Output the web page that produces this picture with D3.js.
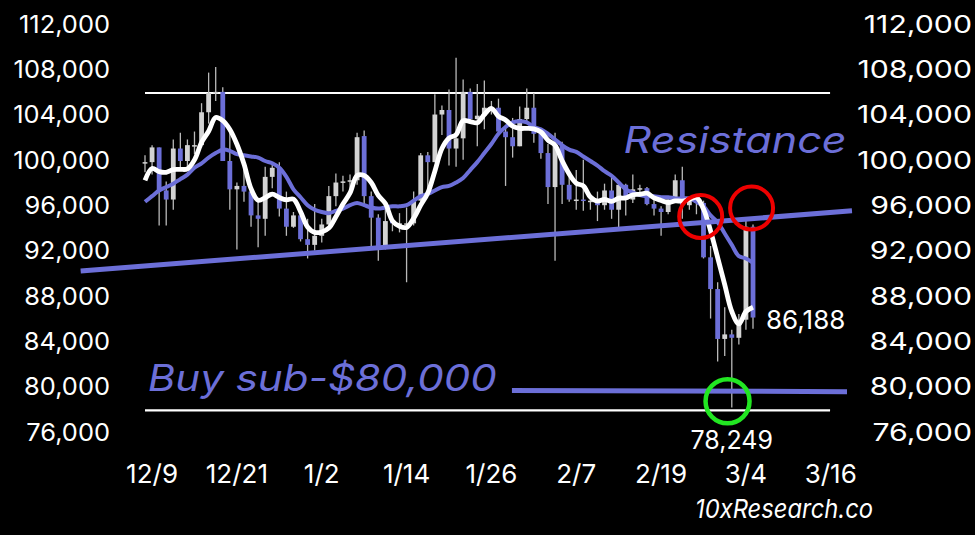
<!DOCTYPE html>
<html><head><meta charset="utf-8">
<script src="https://cdn.jsdelivr.net/npm/d3@7"></script>
<style>
html,body{margin:0;padding:0;background:#000;}
svg{display:block;}
text{font-family:Inter,"Open Sans",sans-serif;}
</style></head><body>
<svg id="chart" width="975" height="535"></svg>
<script>
// Daily BTC candles, Dec 7 2024 .. Mar 3 2025 (values in USD thousands)
const startDate = "2024-12-07";
const opens = [99.8,99.9,101.2,97.4,96.6,101.1,100.0,101.4,101.4,104.3,106.0,106.1,100.0,97.5,97.8,97.3,95.2,94.9,98.6,99.4,95.8,94.2,95.2,93.1,92.6,93.4,94.4,96.9,98.1,98.2,98.3,102.2,96.9,95.0,92.5,94.7,94.5,94.5,94.5,96.5,100.5,99.9,104.1,104.5,101.1,102.0,106.1,103.7,104.0,104.7,104.7,102.6,102.1,101.3,103.7,104.7,102.4,100.7,97.7,101.4,97.9,96.6,96.6,96.5,96.5,96.1,97.4,95.7,97.9,96.6,97.5,97.6,96.2,95.8,95.5,96.6,98.3,96.1,96.6,96.3,91.5,88.7,84.3,84.7,84.4,86.0,94.2];
const highs = [100.5,101.4,101.2,98.2,101.9,102.5,101.9,102.6,105.1,107.8,108.3,106.5,102.8,98.1,99.5,97.4,96.4,99.5,99.9,99.9,97.3,95.5,95.2,94.9,96.2,94.9,97.8,98.9,98.7,98.8,102.5,102.7,97.3,95.3,95.8,94.9,95.4,95.9,97.3,100.7,100.8,105.9,104.9,106.3,109.1,107.2,106.4,106.8,107.1,105.3,105.5,103.2,103.8,104.8,106.4,106.0,102.8,101.5,102.5,101.7,99.1,99.2,100.1,96.9,97.3,98.0,98.5,98.1,98.0,98.8,97.9,97.7,97.0,96.0,96.9,98.8,99.5,96.9,96.7,96.5,92.5,89.3,87.1,85.1,86.5,95.0,94.4];
const lows = [99.0,98.8,94.3,94.3,95.7,99.3,99.2,100.6,101.2,103.3,105.3,100.0,95.7,92.2,96.4,94.2,92.4,93.4,97.6,95.1,93.4,94.1,92.9,91.4,92.1,92.8,94.2,96.0,97.3,97.3,97.9,96.1,92.5,91.2,92.2,93.8,93.7,89.3,94.3,96.4,97.3,99.9,102.3,99.6,99.5,100.1,103.3,101.3,102.8,104.1,102.5,97.8,100.3,101.3,103.3,101.6,100.2,96.2,91.2,96.2,96.4,95.7,95.6,95.7,94.7,95.7,94.9,94.1,95.2,96.3,97.0,96.1,95.2,93.4,95.3,96.4,94.9,95.7,95.3,91.4,86.1,82.3,82.8,78.249,83.8,85.1,85.2];
const closes = [99.9,101.2,97.4,96.6,101.1,100.0,101.4,101.4,104.3,106.0,106.1,100.0,97.5,97.8,97.3,95.2,94.9,98.6,99.4,95.8,94.2,95.2,93.1,92.6,93.4,94.4,96.9,98.1,98.2,98.3,102.1,96.9,95.0,92.5,94.7,94.5,94.5,94.5,96.5,100.5,99.9,104.1,104.5,101.1,102.0,106.1,103.7,104.0,104.7,104.7,102.6,102.1,101.3,103.7,104.7,102.4,100.7,97.7,101.4,97.9,96.6,96.6,96.5,96.5,96.1,97.4,95.7,97.9,96.6,97.5,97.6,96.2,95.8,95.5,96.6,98.3,96.1,96.6,96.3,91.5,88.7,84.3,84.7,84.4,86.0,94.2,86.188];
// Short moving average (white) and longer moving average (blue)
const maShort = [98.3,99.34,99.06,99.0,99.24,99.26,99.3,100.1,101.64,102.62,103.84,103.56,102.78,101.48,99.74,97.56,96.54,96.76,97.08,96.78,96.58,96.64,95.54,94.18,93.7,93.74,94.08,95.08,96.2,97.18,98.72,98.72,98.1,96.96,96.24,94.72,94.24,94.14,94.94,96.1,97.18,99.1,101.1,102.02,102.32,103.56,103.48,103.38,104.1,104.64,103.94,103.62,103.08,102.88,102.88,102.84,102.56,101.84,101.38,100.02,98.86,98.04,97.8,96.82,96.46,96.62,96.44,96.72,96.74,97.02,97.06,97.16,96.74,96.52,96.34,96.48,96.46,96.62,96.78,95.76,93.84,91.48,89.1,86.72,85.62,86.72,87.1];
const maLong = [96.4,96.9,97.4,97.7,98.0,98.4,98.8,99.4,99.8,100.3,100.7,101.0,100.9,100.6,100.5,100.4,100.3,100.0,99.8,99.4,98.6,97.5,96.8,96.1,95.7,95.5,95.4,95.6,95.8,96.1,96.3,96.1,95.9,95.8,95.9,96.0,96.0,96.1,96.5,96.9,97.1,97.4,97.7,97.8,98.1,98.5,99.2,99.9,100.7,101.5,102.4,103.0,103.4,103.5,103.4,103.0,102.8,102.4,101.9,101.4,101.0,100.8,100.4,100.0,99.6,99.1,98.7,98.1,97.5,97.2,97.0,96.9,96.9,96.8,96.8,96.7,96.7,96.7,96.4,96.0,95.2,94.6,93.6,92.6,91.6,91.4,91.0];
// Axis ticks
const yTicks = [76,80,84,88,92,96,100,104,108,112];
const xTickLabels = ["12/9","12/21","1/2","1/14","1/26","2/7","2/19","3/4","3/16"];
const xTickIndex = [1,13,25,37,49,61,73,85,97];
// Annotation levels (day index, value in thousands)
const rangeTop = 106;
const rangeBottom = 78;
const rangeSpan = [0, 96.9];
const buyLevel = [79.75, 79.65];
const buySpan = [51.9, 99.3];
const resistanceLine = [{i:-9.1, v:90.3},{i:100.0, v:95.6}];
const redCircles = [{i:78.6, v:95.1},{i:85.8, v:95.85}];
const greenCircles = [{i:82.4, v:78.8}];
const lowLabel = "78,249";
const lastLabel = "86,188";

const W = 975, H = 535;
const BLUE = "#6c6fd8";
const svg = d3.select("#chart");
svg.append("rect").attr("width", W).attr("height", H).attr("fill", "#000");

const n = closes.length;
const x = d3.scaleLinear().domain([0, n - 1]).range([145, 753]);
const y = d3.scaleLinear().domain([76, 112]).range([433, 25]);
const fmt = v => d3.format(",")(Math.round(v * 1000));

// Y axes
const yl = svg.append("g").attr("transform", "translate(110,0)")
  .call(d3.axisLeft(y).tickValues(yTicks).tickFormat(fmt).tickSize(0).tickPadding(0));
const yr = svg.append("g").attr("transform", "translate(972,0)")
  .call(d3.axisLeft(y).tickValues(yTicks).tickFormat(fmt).tickSize(0).tickPadding(0));
[yl, yr].forEach(g => {
  g.select(".domain").remove();
  g.selectAll("text").attr("fill", "#fff").attr("font-size", 24)
    .attr("font-family", "Inter,'Open Sans',sans-serif").attr("dy", "0.3em");
});
yl.selectAll("text").each(function () {
  const w = this.getComputedTextLength();
  d3.select(this).attr("textLength", w * 1.06).attr("lengthAdjust", "spacingAndGlyphs");
});
yr.selectAll("text").each(function () {
  const w = this.getComputedTextLength();
  d3.select(this).attr("textLength", w * 1.26).attr("lengthAdjust", "spacingAndGlyphs");
});

// X labels
svg.append("g").selectAll("text").data(xTickLabels).join("text")
  .attr("x", (d, k) => x(xTickIndex[k])).attr("y", 483)
  .attr("text-anchor", "middle").attr("fill", "#fff").attr("font-size", 26)
  .text(d => d);

// Range lines
svg.append("g").selectAll("line").data([rangeTop, rangeBottom]).join("line")
  .attr("x1", x(rangeSpan[0])).attr("x2", x(rangeSpan[1]))
  .attr("y1", d => y(d)).attr("y2", d => y(d))
  .attr("stroke", "#fff").attr("stroke-width", 2.2);

// Candles
const idx = d3.range(n);
const cg = svg.append("g");
cg.selectAll("line").data(idx).join("line")
  .attr("x1", i => x(i)).attr("x2", i => x(i))
  .attr("y1", i => y(highs[i])).attr("y2", i => y(lows[i]))
  .attr("stroke", "#b9b9b9").attr("stroke-width", 1.3);
cg.selectAll("rect").data(idx).join("rect")
  .attr("x", i => x(i) - 2.4).attr("width", 4.8)
  .attr("y", i => y(Math.max(opens[i], closes[i])))
  .attr("height", i => Math.max(1.5, Math.abs(y(opens[i]) - y(closes[i]))))
  .attr("fill", i => closes[i] >= opens[i] ? "#d3d3d3" : BLUE);

// Moving averages
const lineGen = arr => d3.line().x((d, i) => x(i)).y(d => y(d)).curve(d3.curveCatmullRom.alpha(0.5))(arr);
svg.append("path").attr("d", lineGen(maLong)).attr("fill", "none")
  .attr("stroke", BLUE).attr("stroke-width", 4);
svg.append("path").attr("d", lineGen(maShort)).attr("fill", "none")
  .attr("stroke", "#fff").attr("stroke-width", 4.8);

// Resistance trend line
svg.append("line")
  .attr("x1", x(resistanceLine[0].i)).attr("y1", y(resistanceLine[0].v))
  .attr("x2", x(resistanceLine[1].i)).attr("y2", y(resistanceLine[1].v))
  .attr("stroke", BLUE).attr("stroke-width", 5);

// Buy level line
svg.append("line")
  .attr("x1", x(buySpan[0])).attr("y1", y(buyLevel[0]))
  .attr("x2", x(buySpan[1])).attr("y2", y(buyLevel[1]))
  .attr("stroke", BLUE).attr("stroke-width", 5);

// Circles
svg.append("g").selectAll("circle").data(redCircles).join("circle")
  .attr("cx", d => x(d.i)).attr("cy", d => y(d.v)).attr("r", 21.5)
  .attr("fill", "none").attr("stroke", "#ee0000").attr("stroke-width", 4);
svg.append("g").selectAll("circle").data(greenCircles).join("circle")
  .attr("cx", d => x(d.i)).attr("cy", d => y(d.v)).attr("r", 22)
  .attr("fill", "none").attr("stroke", "#22e622").attr("stroke-width", 4.5);

// Texts
svg.append("text").attr("x", x(67.7)).attr("y", y(100.7))
  .attr("fill", BLUE).attr("font-size", 37).attr("font-style", "italic")
  .attr("textLength", 223).attr("lengthAdjust", "spacingAndGlyphs").text("Resistance");
svg.append("text").attr("x", x(0.4)).attr("y", y(79.75))
  .attr("fill", BLUE).attr("font-size", 37).attr("font-style", "italic")
  .attr("textLength", 349).attr("lengthAdjust", "spacingAndGlyphs").text("Buy sub-$80,000");
svg.append("text").attr("x", x(n - 1) + 13).attr("y", y(closes[n - 1]) + 11)
  .attr("fill", "#fff").attr("font-size", 26).text(lastLabel);
svg.append("text").attr("x", x(83)).attr("y", y(78.249) + 41)
  .attr("text-anchor", "middle").attr("fill", "#fff").attr("font-size", 25).text(lowLabel);
svg.append("text").attr("x", 873).attr("y", 518).attr("text-anchor", "end")
  .attr("fill", "#fff").attr("font-size", 26).attr("font-style", "italic")
  .attr("textLength", 178).attr("lengthAdjust", "spacingAndGlyphs").text("10xResearch.co");
</script>
</body></html>
